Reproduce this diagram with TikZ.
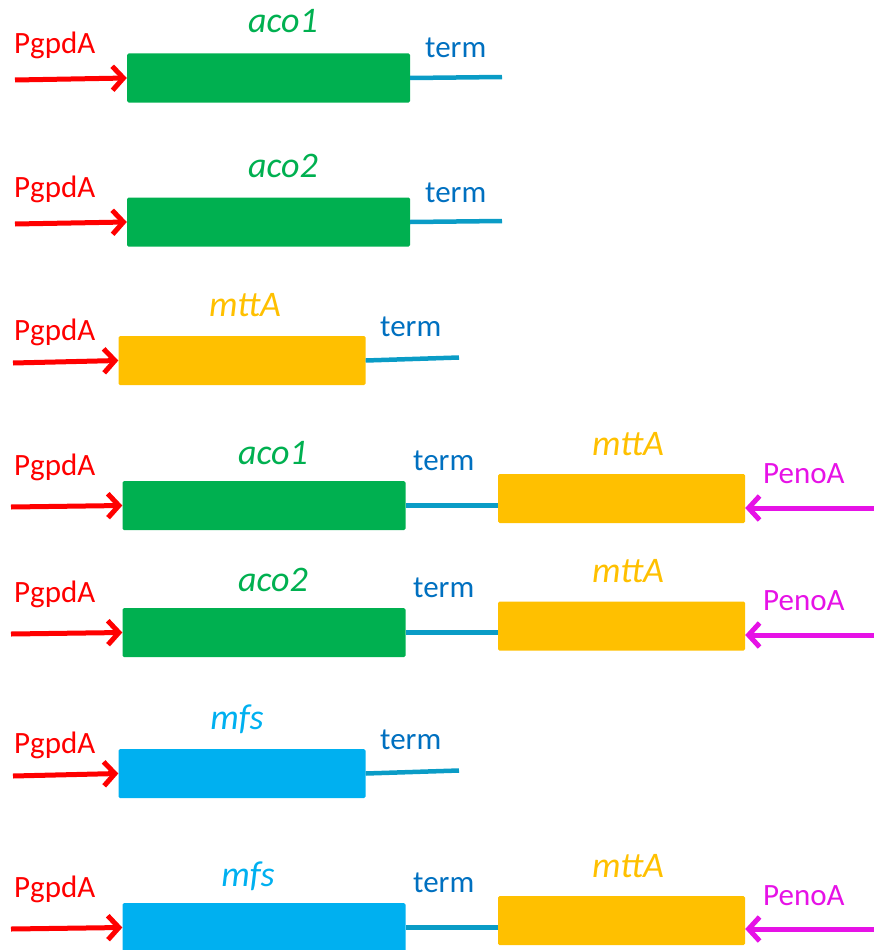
\documentclass[tikz,border=0pt]{standalone}
\usepackage{fontspec}
\setmainfont{Carlito}
\usetikzlibrary{arrows.meta}
\definecolor{genegreen}{HTML}{00B050}
\definecolor{geneorange}{HTML}{FFC000}
\definecolor{genecyan}{HTML}{00B0F0}
\definecolor{promred}{HTML}{FF0000}
\definecolor{prommag}{HTML}{E612E6}
\definecolor{termtext}{HTML}{0070C0}
\definecolor{termline}{HTML}{0A9CC6}
\tikzset{
  gene/.style={rounded corners=1.5pt, inner sep=0pt, minimum height=49pt},
  longgene/.style={gene, minimum width=283pt},
  shortgene/.style={gene, minimum width=247pt},
  promarrow/.style={line width=5pt, -{Straight Barb[length=11pt,width=24pt]}},
  pgpd/.style={promarrow, draw=promred},
  peno/.style={promarrow, draw=prommag},
  termwire/.style={draw=termline, line width=4.5pt},
  plabel/.style={font=\fontsize{31}{31}\selectfont, anchor=base west, inner sep=0pt},
  glabel/.style={font=\fontsize{36}{36}\selectfont\itshape, anchor=base, inner sep=0pt},
}
\begin{document}
\begin{tikzpicture}[x=1pt,y=-1pt]
\useasboundingbox (0,0) rectangle (874,950);
% ---- construct 1: aco1
\node[longgene, fill=genegreen] (g1) at (268.5,78) {};
\coordinate (s1) at (15,80);
\coordinate (e1) at (502,77);
\draw[pgpd] (s1) -- (g1.west);
\draw[termwire] (g1.east) -- (e1);
\node[plabel, text=promred] (pl1) at (14,53) {PgpdA};
\node[glabel, text=genegreen] (gl1) at (283,33) {aco1};
\node[plabel, text=termtext] (tl1) at (425,58) {term};
% ---- construct 2: aco2
\node[longgene, fill=genegreen] (g2) at (268.5,222) {};
\coordinate (s2) at (15,224);
\coordinate (e2) at (502,221);
\draw[pgpd] (s2) -- (g2.west);
\draw[termwire] (g2.east) -- (e2);
\node[plabel, text=promred] (pl2) at (14,197) {PgpdA};
\node[glabel, text=genegreen] (gl2) at (283,177) {aco2};
\node[plabel, text=termtext] (tl2) at (425,202) {term};
% ---- construct 3: mttA
\node[shortgene, fill=geneorange] (g3) at (242,360.5) {};
\coordinate (s3) at (13,363);
\coordinate (e3) at (459,357.5);
\draw[pgpd] (s3) -- (g3.west);
\draw[termwire] (g3.east) -- (e3);
\node[plabel, text=promred] (pl3) at (14,340) {PgpdA};
\node[glabel, text=geneorange] (gl3) at (245,316) {mttA};
\node[plabel, text=termtext] (tl3) at (380,336) {term};
% ---- construct 4: aco1 + mttA
\node[longgene, fill=genegreen] (g4a) at (264,505.5) {};
\node[shortgene, fill=geneorange] (g4b) at (621.5,498.5) {};
\coordinate (s4) at (11,507);
\coordinate (p4) at (874,508);
\draw[pgpd] (s4) -- (g4a.west);
\draw[termwire] (g4a.east) -- (g4a.east -| g4b.west);
\draw[peno] (p4) -- (p4 -| g4b.east);
\node[plabel, text=promred] (pl4) at (14,475) {PgpdA};
\node[glabel, text=genegreen] (gl4a) at (273,464) {aco1};
\node[plabel, text=termtext] (tl4) at (413,470) {term};
\node[glabel, text=geneorange] (gl4b) at (628,455) {mttA};
\node[plabel, text=prommag] (el4) at (763,483) {PenoA};
% ---- construct 5: aco2 + mttA
\node[longgene, fill=genegreen] (g5a) at (264,632.5) {};
\node[shortgene, fill=geneorange] (g5b) at (621.5,626) {};
\coordinate (s5) at (11,634);
\coordinate (p5) at (874,635);
\draw[pgpd] (s5) -- (g5a.west);
\draw[termwire] (g5a.east) -- (g5a.east -| g5b.west);
\draw[peno] (p5) -- (p5 -| g5b.east);
\node[plabel, text=promred] (pl5) at (14,602) {PgpdA};
\node[glabel, text=genegreen] (gl5a) at (273,591) {aco2};
\node[plabel, text=termtext] (tl5) at (413,597) {term};
\node[glabel, text=geneorange] (gl5b) at (628,582) {mttA};
\node[plabel, text=prommag] (el5) at (763,610) {PenoA};
% ---- construct 6: mfs
\node[shortgene, fill=genecyan] (g6) at (242,773.5) {};
\coordinate (s6) at (13,776);
\coordinate (e6) at (459,770.5);
\draw[pgpd] (s6) -- (g6.west);
\draw[termwire] (g6.east) -- (e6);
\node[plabel, text=promred] (pl6) at (14,753) {PgpdA};
\node[glabel, text=genecyan] (gl6) at (237,729) {mfs};
\node[plabel, text=termtext] (tl6) at (380,749) {term};
% ---- construct 7: mfs + mttA
\node[longgene, fill=genecyan] (g7a) at (264,927.5) {};
\node[shortgene, fill=geneorange] (g7b) at (621.5,920.5) {};
\coordinate (s7) at (11,929);
\coordinate (p7) at (874,929);
\draw[pgpd] (s7) -- (g7a.west);
\draw[termwire] (g7a.east) -- (g7a.east -| g7b.west);
\draw[peno] (p7) -- (p7 -| g7b.east);
\node[plabel, text=promred] (pl7) at (14,897) {PgpdA};
\node[glabel, text=genecyan] (gl7a) at (248,886) {mfs};
\node[plabel, text=termtext] (tl7) at (413,892) {term};
\node[glabel, text=geneorange] (gl7b) at (628,877) {mttA};
\node[plabel, text=prommag] (el7) at (763,905) {PenoA};
\end{tikzpicture}
\end{document}
